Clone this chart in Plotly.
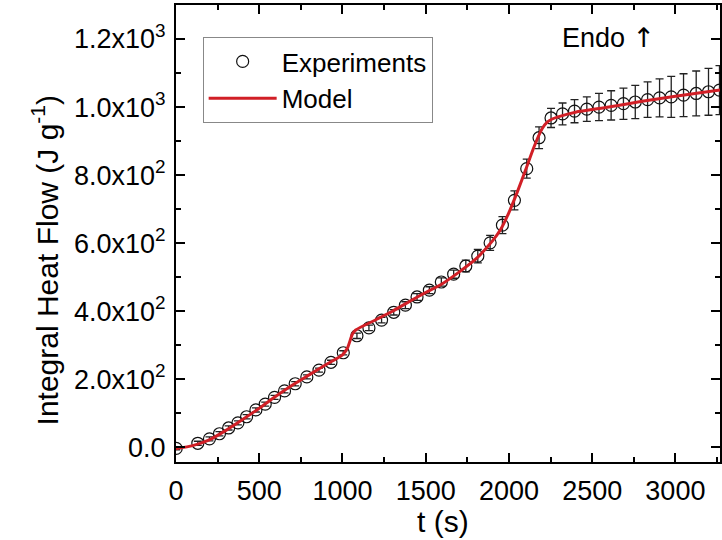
import plotly.graph_objects as go

# Experimental data (time in s, integral heat flow in J/g, error)
exp_t = [1, 131, 201, 261, 316, 372, 424, 480, 536, 592, 652, 716, 786, 859, 931,
         1005, 1087, 1159, 1235, 1308, 1378, 1448, 1522, 1594, 1668, 1741, 1813,
         1887, 1961, 2033, 2107, 2181, 2253, 2322, 2394, 2468, 2541, 2614, 2688,
         2759, 2833, 2905, 2975, 3049, 3125, 3199, 3265]
exp_v = [-3, 12, 25, 40, 57, 72, 90, 110, 127, 147, 166, 187, 207, 227, 250,
         278, 328, 351, 374, 397, 418, 442, 462, 486, 509, 533, 562,
         601, 653, 726, 819, 910, 968, 980, 988, 994, 1000, 1005, 1010,
         1015, 1022, 1027, 1030, 1035, 1040, 1045, 1050]
exp_err = [4, 6, 6, 6, 6, 6, 6, 6, 6, 6, 6, 6, 6, 6, 6,
           6, 8, 8, 8, 8, 10, 10, 10, 12, 12, 17, 20,
           22, 25, 28, 28, 32, 28, 32, 34, 36, 40, 43, 46,
           49, 52, 56, 60, 63, 66, 69, 72]

# Model curve
mod_t = [0, 100, 200, 300, 400, 500, 600, 700, 800, 900, 1000, 1030, 1060, 1080,
         1200, 1300, 1400, 1450, 1500, 1600, 1700, 1800, 1900, 1950, 2000, 2050,
         2100, 2150, 2200, 2230, 2260, 2300, 2400, 2600, 2800, 3000, 3268]
mod_v = [-4, 5, 22, 50, 82, 115, 150, 183, 213, 243, 272, 292, 333, 345,
         375, 400, 428, 442, 455, 481, 515, 553, 606, 640, 690, 750,
         815, 882, 937, 956, 965, 972, 985, 1000, 1017, 1032, 1050]

y_tickvals = [0, 200, 400, 600, 800, 1000, 1200]
y_ticktext = ["0.0", "2.0x10<sup>2</sup>", "4.0x10<sup>2</sup>", "6.0x10<sup>2</sup>",
              "8.0x10<sup>2</sup>", "1.0x10<sup>3</sup>", "1.2x10<sup>3</sup>"]
x_tickvals = [0, 500, 1000, 1500, 2000, 2500, 3000]

FONT = "Liberation Sans, Arial, sans-serif"
TICK_FS = 27
LEG_FS = 26
TITLE_FS = 30

fig = go.Figure()
fig.add_trace(go.Scatter(
    x=exp_t, y=exp_v, mode="markers", name="Experiments",
    marker=dict(symbol="circle-open", size=12, color="#111111",
                line=dict(width=1.2, color="#111111")),
    error_y=dict(type="data", array=exp_err, visible=True,
                 color="#222222", thickness=1.3, width=4),
))
fig.add_trace(go.Scatter(
    x=mod_t, y=mod_v, mode="lines", name="Model",
    line=dict(color="#d11f26", width=3, shape="spline", smoothing=0.6),
))

axis_common = dict(
    showline=True, linecolor="black", linewidth=2, mirror="ticks",
    ticks="inside", ticklen=9, tickwidth=1.5, tickcolor="black",
    showgrid=False, zeroline=False,
    tickfont=dict(family=FONT, size=TICK_FS, color="black"),
)

fig.update_xaxes(range=[0, 3268], tickvals=x_tickvals,
                 minor=dict(ticks="inside", ticklen=5, tickwidth=1.5,
                            tickcolor="black", dtick=250, tick0=0),
                 ticklabelstandoff=4, **axis_common)
fig.update_yaxes(range=[-43, 1300], tickvals=y_tickvals, ticktext=y_ticktext,
                 minor=dict(ticks="inside", ticklen=5, tickwidth=1.5,
                            tickcolor="black", dtick=100, tick0=0),
                 ticklabelstandoff=3, **axis_common)

fig.update_layout(
    width=722, height=540,
    margin=dict(l=176, r=0, t=5, b=78),
    paper_bgcolor="white", plot_bgcolor="white",
    font=dict(family=FONT, size=TICK_FS, color="black"),
    showlegend=True,
    legend=dict(x=0.049, y=0.930, xanchor="left", yanchor="top",
                bgcolor="white", bordercolor="#888888", borderwidth=1,
                font=dict(family=FONT, size=LEG_FS, color="black"),
                itemwidth=68, tracegroupgap=0),
    annotations=[
        dict(text="Integral Heat Flow (J g<sup>-1</sup>)", xref="paper", yref="paper",
             x=-0.24, y=0.442, textangle=-90, showarrow=False,
             xanchor="center", yanchor="middle",
             font=dict(family=FONT, size=TITLE_FS, color="black")),
        dict(text="t (s)", xref="paper", yref="paper",
             x=0.49, y=-0.131, showarrow=False, xanchor="center", yanchor="middle",
             font=dict(family=FONT, size=TITLE_FS, color="black")),
        dict(text="Endo <span style='font-family:DejaVu Sans'>\u2191</span>",
             xref="x", yref="y", x=2308, y=1205,
             showarrow=False, xanchor="left", yanchor="middle",
             font=dict(family=FONT, size=TICK_FS, color="black")),
    ],
)

fig.write_html("out.html")
